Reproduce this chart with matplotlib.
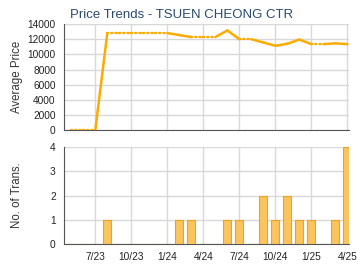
import numpy as np
import matplotlib
matplotlib.use('Agg')
import matplotlib.pyplot as plt

plt.rcParams['font.family'] = ['Liberation Sans', 'DejaVu Sans']

# monthly data, 5/23 .. 4/25 (NaN = no transactions that month)
months = ['5/23', '6/23', '7/23', '8/23', '9/23', '10/23', '11/23', '12/23',
          '1/24', '2/24', '3/24', '4/24', '5/24', '6/24', '7/24', '8/24',
          '9/24', '10/24', '11/24', '12/24', '1/25', '2/25', '3/25', '4/25']
avg_price = [0, np.nan, np.nan, 12800, np.nan, np.nan, np.nan, np.nan,
             np.nan, 12540, 12280, np.nan, np.nan, 13150, 12000, np.nan,
             11560, 11130, 11400, 11950, 11350, np.nan, 11450, 11350]
trans = [0, 0, 0, 1, 0, 0, 0, 0,
         0, 1, 1, 0, 0, 1, 1, 0,
         2, 1, 2, 1, 1, 0, 1, 4]
tick_labels = ['7/23', '10/23', '1/24', '4/24', '7/24', '10/24', '1/25', '4/25']

x = np.arange(len(months)) - 2  # 7/23 -> 0
price = np.array(avg_price, dtype=float)
filled = price.copy()
for i in range(1, len(filled)):
    if np.isnan(filled[i]):
        filled[i] = filled[i - 1]

line_c = '#FFAA00'
grid_c = '#D8D8D8'
tick_pos = x[2::3]
xlim = (-2.6, 21.15)

fig = plt.figure(figsize=(3.6, 2.7), dpi=100)
ax1 = fig.add_axes([0.178, 0.518, 0.792, 0.393])
ax2 = fig.add_axes([0.178, 0.096, 0.792, 0.359])

for ax in (ax1, ax2):
    ax.set_xlim(*xlim)
    ax.set_xticks(tick_pos)
    ax.grid(True, color=grid_c, linewidth=1)
    ax.set_axisbelow(True)
    for s in ('top', 'right'):
        ax.spines[s].set_visible(False)
    for s in ('left', 'bottom'):
        ax.spines[s].set_color('#555555')
    ax.tick_params(length=0, labelsize=7.3, colors='#222222')
    ax.tick_params(axis='y', pad=6)
    ax.tick_params(axis='x', pad=6)

# price trend: carried-forward months dotted, real months solid
for i in range(1, len(x)):
    solid = not np.isnan(price[i])
    ax1.plot(x[i - 1:i + 1], filled[i - 1:i + 1], color=line_c,
             linewidth=1.8 if solid else 1.7,
             linestyle='-' if solid else (0, (0.5, 1.3)),
             dash_capstyle='round', solid_capstyle='round', zorder=3)
ax1.set_ylim(0, 14000)
ax1.set_yticks(np.arange(0, 14001, 2000))
ax1.set_xticklabels([])
ax1.set_ylabel('Average Price', fontsize=8.3, color='#333333')
ax1.yaxis.set_label_coords(-0.145, 0.5)
ax1.set_title('Price Trends - TSUEN CHEONG CTR', fontsize=9.5,
              color='#2A4A70', loc='left', pad=4, x=0.02)

# transactions
ax2.bar(x, trans, width=0.68, color='#FBC45C', edgecolor='#F0A21A',
        linewidth=0.8, zorder=3)
ax2.set_ylim(0, 4)
ax2.set_yticks(range(0, 5))
ax2.set_xticklabels(tick_labels)
ax2.set_ylabel('No. of Trans.', fontsize=8.3, color='#333333')
ax2.yaxis.set_label_coords(-0.145, 0.5)

fig.savefig('out.png', dpi=100)
